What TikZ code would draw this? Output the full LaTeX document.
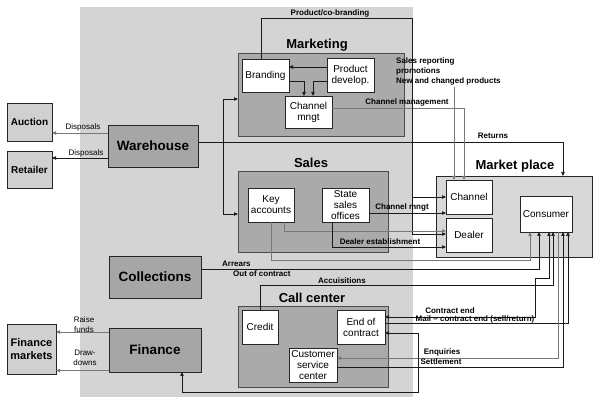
\documentclass[tikz,border=0pt]{standalone}
\usepackage{fontspec}
\setmainfont{Liberation Sans}
\usetikzlibrary{arrows.meta}
\definecolor{bggray}{RGB}{212,212,212}
\definecolor{grpgray}{RGB}{170,170,170}
\definecolor{boxgray}{RGB}{166,166,166}
\definecolor{lightbox}{RGB}{208,208,208}
\definecolor{mpgray}{RGB}{216,216,216}
\definecolor{lgline}{RGB}{120,120,120}
\tikzset{
  grp/.style={fill=grpgray, draw=black!70, line width=0.6pt, inner sep=0pt, outer sep=0pt, anchor=north west},
  wbox/.style={fill=white, draw=black!85, line width=0.6pt, inner sep=0pt, outer sep=0pt, anchor=north west, align=center, font=\fontsize{10}{11}\selectfont},
  dbox/.style={fill=boxgray, draw=black!85, line width=0.6pt, inner sep=0pt, outer sep=0pt, anchor=north west, align=center, font=\bfseries\fontsize{13.5}{15}\selectfont},
  lbox/.style={fill=lightbox, draw=black!85, line width=0.6pt, inner sep=0pt, outer sep=0pt, anchor=north west, align=center, font=\bfseries\fontsize{10}{11}\selectfont},
  mpbox/.style={fill=mpgray, draw=black!85, line width=0.6pt, inner sep=0pt, outer sep=0pt, anchor=north west},
  ttl/.style={font=\bfseries\fontsize{13}{15}\selectfont, inner sep=0pt},
  lab/.style={font=\bfseries\fontsize{8}{10}\selectfont, inner sep=0pt},
  rlab/.style={font=\fontsize{8}{9.5}\selectfont, inner sep=0pt, align=center},
  dline/.style={draw=black!90, line width=0.7pt},
  gline/.style={draw=lgline, line width=0.8pt},
}
\begin{document}
\begin{tikzpicture}[x=1pt,y=-1pt, >={Triangle[length=4pt,width=3.4pt]}]
\useasboundingbox (0,0) rectangle (595,403);
% background
\fill[bggray] (80,7) rectangle (413,397);
% group boxes
\node[grp, minimum width=166, minimum height=83] (Marketing) at (238,53) {};
\node[grp, minimum width=150, minimum height=81] (Sales) at (238,171) {};
\node[grp, minimum width=150, minimum height=81] (CallC) at (238,306) {};
\node[ttl] (tMarketing) at (317,45) {Marketing};
\node[ttl] (tSales) at (311,163) {Sales};
\node[ttl] (tCallC) at (312,298) {Call center};
% market place
\node[mpbox, minimum width=156, minimum height=81] (MarketPlace) at (436,176) {};
\node[ttl] (tMP) at (515,166) {Market place};
% dark boxes
\node[dbox, minimum width=90, minimum height=42] (Warehouse) at (108,125) {Warehouse};
\node[dbox, minimum width=92, minimum height=42] (Collections) at (109,256) {Collections};
\node[dbox, minimum width=92, minimum height=44] (Finance) at (109,328) {Finance};
% light boxes
\node[lbox, minimum width=45, minimum height=38] (Auction) at (7,103) {Auction};
\node[lbox, minimum width=45, minimum height=37] (Retailer) at (7,151) {Retailer};
\node[lbox, minimum width=49, minimum height=50, font=\bfseries\fontsize{11}{12.5}\selectfont] (FinM) at (7,324) {Finance\\markets};
% white boxes
\node[wbox, minimum width=47, minimum height=33] (Branding) at (242,59) {Branding};
\node[wbox, minimum width=47, minimum height=34] (Product) at (327,58) {Product\\develop.};
\node[wbox, minimum width=47, minimum height=32] (Chmngt) at (285,96) {Channel\\mngt};
\node[wbox, minimum width=46, minimum height=34] (Key) at (248,188) {Key\\accounts};
\node[wbox, minimum width=47, minimum height=34] (State) at (322,188) {State\\sales\\offices};
\node[wbox, minimum width=36, minimum height=34] (Credit) at (242,310) {Credit};
\node[wbox, minimum width=48, minimum height=34] (EndC) at (337,310) {End of\\contract};
\node[wbox, minimum width=48, minimum height=34] (CSC) at (289,348) {Customer\\service\\center};
\node[wbox, minimum width=46, minimum height=34] (Channel) at (446,180) {Channel};
\node[wbox, minimum width=46, minimum height=34] (Dealer) at (446,218) {Dealer};
\node[wbox, minimum width=52, minimum height=36] (Consumer) at (520,196) {Consumer};
% coordinates
\coordinate (jW) at (223,142);
\coordinate (cb) at (412,197);
\coordinate (sr) at (454,87);
% connectors
\draw[gline,->] (Warehouse.west |- 0,133) -- (Auction.east |- 0,133);
\draw[dline,->] (Warehouse.west |- 0,158) -- (Retailer.east |- 0,158);
\draw[dline,->] (Warehouse.east |- jW) -| (MarketPlace.north -| 563,0);
\draw[dline,->] (jW) |- (Marketing.west |- 0,99);
\draw[dline,->] (jW) |- (Sales.west |- 0,214);
\draw[dline,->] (Product.west |- 0,67) -- (Branding.east |- 0,67);
\draw[dline,->] (Branding.east |- 0,81) -| (Chmngt.north -| 304,0);
\draw[dline,->] (Product.west |- 0,81) -| (Chmngt.north -| 313,0);
\draw[gline,->] (Chmngt.east |- 0,108) -| (Channel.north -| 464,0);
\draw[gline,->] (sr) -- (Channel.north -| sr);
\draw[dline,->] (Branding.north -| 261,0) |- (412,18) |- (Channel.west |- cb);
\draw[dline,->] (cb) |- (Dealer.west |- 0,234);
\draw[dline,->] (State.east |- 0,213) -- (Channel.west |- 0,213);
\draw[gline,->] (Key.south -| 284,0) |- (Dealer.west |- 0,231);
\draw[gline,->] (Key.south -| 271,0) |- (530,260) -- (Consumer.south -| 530,0);
\draw[dline,->] (State.south -| 332,0) |- (Dealer.west |- 0,247);
\draw[dline,->] (Collections.east |- 0,269) -| (Consumer.south -| 539,0);
\draw[dline,->] (Credit.north -| 260,0) |- (553,285) -- (Consumer.south -| 553,0);
\draw[dline,<->] (Consumer.south -| 549,0) -- (549,278) -| (535,317) -- (EndC.east |- 0,317);
\draw[dline,->] (EndC.east |- 0,323) -| (Consumer.south -| 568,0);
\draw[gline,->] (Consumer.south -| 558,0) |- (CSC.east |- 0,358);
\draw[dline,->] (CSC.east |- 0,367) -| (Consumer.south -| 563,0);
\draw[dline,<->] (EndC.east |- 0,333) -| (418,392) -| (Finance.south -| 182,0);
\draw[gline,->] (Finance.west |- 0,332) -- (FinM.east |- 0,332);
\draw[gline,->] (Finance.west |- 0,370.5) -- (FinM.east |- 0,370.5);
% labels
\node[rlab] (lDisp1) at (83,127) {Disposals};
\node[rlab] (lDisp2) at (86,153) {Disposals};
\node[lab] (lCob) at (330,13) {Product/co-branding};
\node[lab, anchor=west, align=left] (lSR) at (396,71) {Sales reporting\\promotions\\New and changed products};
\node[lab] (lChm) at (407,102) {Channel management};
\node[lab] (lRet) at (493,136) {Returns};
\node[lab] (lChm2) at (402,207) {Channel mngt};
\node[lab] (lDE) at (380,242) {Dealer establishment};
\node[lab, anchor=west] (lArr) at (222,264) {Arrears};
\node[lab, anchor=west] (lOoc) at (233,274) {Out of contract};
\node[lab] (lAcc) at (342,281) {Accuisitions};
\node[lab] (lCE) at (450,311) {Contract end};
\node[lab] (lMail) at (475,319.5) {Mail -- contract end (sell/return)};
\node[lab] (lEnq) at (442,352) {Enquiries};
\node[lab] (lSet) at (441,362) {Settlement};
\node[rlab] (lRaise) at (84,324.5) {Raise\\funds};
\node[rlab] (lDraw) at (85,358) {Draw-\\downs};
\end{tikzpicture}
\end{document}
